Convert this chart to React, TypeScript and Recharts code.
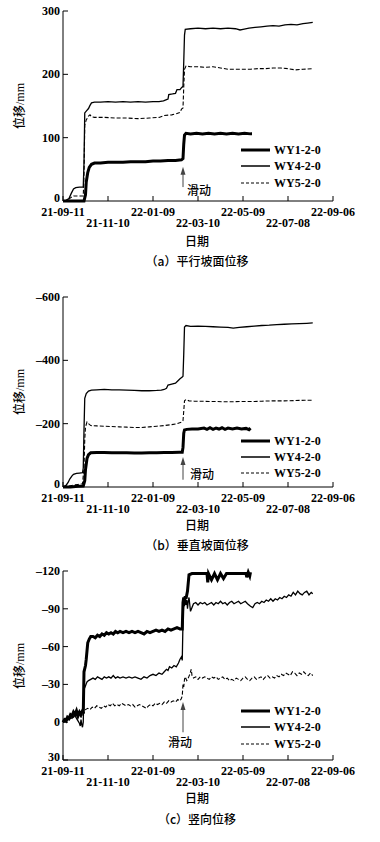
import { LineChart, Line, XAxis, YAxis, ReferenceLine } from 'recharts';

type Pt = [number, number];

// x: days counted from 21-09-11
const DATE_TICKS = [0, 60, 120, 180, 240, 300, 360];
const DATE_LABELS = ['21-09-11', '21-11-10', '22-01-09', '22-03-10', '22-05-09', '22-07-08', '22-09-06'];
const SERIES_NAMES = ['WY1-2-0', 'WY4-2-0', 'WY5-2-0'];

const A_TICKS = [0, 100, 200, 300];
const B_TICKS = [-600, -400, -200, 0];
const C_TICKS = [-120, -90, -60, -30, 0, 30];

// (a) 平行坡面位移
const A_WY1: Pt[] = [[0,0],[10,0],[20,0],[28,0],[30,10],[31,30],[33,45],[35,53],[38,58],[42,60],[50,60],[60,61],[70,61],[80,61],[90,62],[100,62],[110,62],[120,63],[130,63],[140,64],[150,64],[158,65],[160,67],[161,90],[162,104],[164,107],[170,106],[178,107],[186,106],[194,107],[202,106],[210,107],[218,106],[226,107],[234,106],[242,107],[250,106],[252,106]];
const A_WY4: Pt[] = [[0,0],[4,1],[8,4],[11,12],[14,19],[17,21],[22,22],[27,22],[28,60],[29,139],[31,142],[34,146],[36,151],[38,155],[42,156],[50,156],[60,157],[70,156],[80,157],[90,156],[100,157],[110,156],[120,157],[128,157],[134,158],[138,160],[140,161],[141,168],[146,169],[150,170],[152,176],[156,176],[158,179],[160,181],[161,220],[162,262],[163,271],[170,272],[180,273],[190,272],[200,273],[210,272],[220,273],[230,272],[236,270],[240,271],[248,273],[256,274],[264,275],[272,276],[280,277],[288,276],[296,278],[304,279],[312,278],[320,280],[326,281],[333,282]];
const A_WY5: Pt[] = [[0,0],[6,1],[10,5],[14,8],[20,8],[27,8],[28,40],[29,120],[31,128],[34,134],[36,136],[38,133],[42,132],[55,132],[70,131],[85,131],[100,130],[115,131],[128,132],[135,135],[145,136],[152,138],[156,140],[158,145],[160,147],[161,180],[162,208],[164,213],[170,212],[180,212],[190,211],[200,212],[210,210],[220,208],[230,208],[240,208],[250,208],[260,209],[270,209],[280,210],[290,210],[300,209],[310,207],[320,208],[333,209]];

// (b) 垂直坡面位移
const B_WY1: Pt[] = [[0,0],[10,0],[20,-2],[27,-3],[29,-20],[30,-55],[32,-90],[34,-102],[37,-108],[45,-109],[55,-109],[65,-108],[75,-108],[85,-108],[95,-107],[105,-107],[115,-108],[125,-108],[135,-109],[145,-109],[155,-110],[159,-110],[160,-125],[161,-170],[162,-180],[165,-182],[172,-183],[180,-183],[188,-186],[192,-182],[196,-187],[200,-182],[204,-186],[208,-183],[212,-187],[216,-182],[220,-186],[226,-183],[232,-186],[238,-183],[244,-185],[248,-181],[250,-186]];
const B_WY4: Pt[] = [[0,0],[4,-5],[7,-15],[9,-25],[12,-35],[14,-40],[18,-43],[22,-44],[26,-45],[27,-60],[28,-180],[29,-280],[31,-295],[34,-303],[38,-306],[45,-307],[55,-308],[65,-307],[75,-307],[85,-306],[95,-305],[105,-304],[115,-304],[125,-305],[131,-306],[135,-308],[138,-312],[140,-322],[145,-325],[150,-328],[153,-335],[156,-342],[159,-347],[160,-350],[161,-420],[162,-505],[164,-510],[170,-507],[180,-508],[190,-507],[200,-506],[210,-505],[220,-504],[227,-502],[235,-504],[245,-506],[255,-508],[265,-510],[275,-511],[285,-513],[295,-514],[305,-515],[315,-516],[325,-517],[333,-518]];
const B_WY5: Pt[] = [[0,0],[8,-3],[14,-6],[20,-8],[26,-10],[28,-60],[29,-150],[30,-190],[32,-205],[34,-200],[37,-194],[45,-193],[55,-192],[65,-191],[75,-190],[85,-189],[95,-188],[105,-188],[115,-190],[125,-192],[135,-194],[145,-197],[152,-200],[158,-205],[160,-210],[161,-240],[162,-272],[164,-276],[168,-272],[175,-271],[185,-271],[195,-270],[205,-270],[215,-269],[225,-269],[235,-270],[245,-270],[255,-270],[265,-271],[280,-272],[295,-272],[310,-273],[322,-274],[333,-274]];

// (c) 竖向位移
const C_WY1: Pt[] = [[0,0],[2,-2],[4,-1],[6,-4],[8,-3],[10,-6],[12,-5],[14,-8],[16,-6],[18,-9],[20,-5],[22,-8],[24,-6],[26,-9],[27,-7],[28,-40],[30,-45],[31,-50],[33,-63],[35,-66],[37,-68],[40,-68],[43,-67],[46,-69],[49,-68],[52,-70],[55,-69],[58,-71],[61,-70],[64,-71],[67,-70],[70,-72],[73,-71],[76,-72],[80,-71],[84,-72],[88,-71],[92,-72],[96,-71],[100,-72],[104,-71],[108,-70],[112,-72],[116,-71],[120,-72],[124,-73],[128,-72],[132,-73],[136,-72],[140,-74],[144,-73],[148,-74],[152,-75],[156,-74],[159,-74],[160,-95],[161,-99],[162,-96],[163,-100],[164,-98],[166,-104],[168,-117],[172,-118],[180,-118],[188,-118],[192,-118],[193,-111],[194,-118],[198,-113],[202,-118],[206,-113],[210,-118],[214,-114],[218,-118],[224,-118],[232,-118],[240,-118],[244,-118],[245,-115],[247,-119],[249,-116],[250,-119]];
const C_WY4: Pt[] = [[0,0],[2,-1],[4,-3],[6,-2],[8,-4],[10,-3],[12,-5],[14,-4],[16,-6],[18,-3],[20,-1],[22,1],[23,3],[24,-2],[25,2],[26,4],[27,0],[28,-26],[30,-29],[32,-32],[34,-33],[37,-34],[40,-35],[43,-34],[46,-36],[49,-35],[52,-34],[55,-36],[58,-35],[61,-36],[64,-35],[67,-37],[70,-35],[73,-36],[76,-35],[80,-36],[84,-35],[88,-36],[92,-35],[96,-36],[100,-35],[104,-34],[108,-36],[112,-35],[116,-37],[120,-38],[124,-37],[128,-39],[132,-38],[135,-40],[138,-42],[140,-41],[142,-44],[145,-43],[148,-45],[151,-44],[154,-47],[156,-50],[158,-52],[159,-49],[160,-80],[161,-97],[162,-92],[163,-100],[164,-93],[165,-97],[166,-90],[167,-96],[168,-99],[170,-88],[172,-91],[174,-94],[177,-95],[180,-93],[183,-95],[186,-94],[189,-95],[192,-93],[195,-94],[198,-95],[201,-93],[204,-95],[207,-94],[210,-96],[213,-94],[216,-95],[219,-93],[222,-95],[225,-96],[228,-94],[231,-95],[234,-96],[237,-94],[240,-95],[243,-96],[246,-94],[250,-92],[253,-91],[256,-94],[259,-95],[262,-94],[265,-96],[268,-95],[271,-97],[274,-96],[277,-98],[280,-96],[283,-98],[286,-97],[289,-99],[292,-98],[295,-100],[298,-99],[301,-101],[304,-100],[307,-103],[310,-101],[313,-104],[316,-102],[319,-101],[322,-103],[325,-104],[328,-101],[331,-103],[333,-102]];
const C_WY5: Pt[] = [[0,0],[3,-2],[6,-1],[9,-4],[12,-3],[15,-6],[18,-5],[21,-7],[24,-4],[27,-6],[30,-10],[33,-11],[36,-10],[39,-12],[42,-11],[45,-13],[48,-12],[51,-11],[54,-13],[57,-12],[60,-14],[63,-13],[66,-15],[69,-13],[72,-14],[75,-13],[78,-15],[81,-14],[84,-13],[87,-14],[90,-13],[93,-14],[96,-12],[99,-13],[102,-14],[105,-13],[108,-12],[111,-11],[114,-13],[117,-14],[120,-13],[123,-15],[126,-14],[129,-15],[132,-14],[135,-16],[138,-15],[141,-17],[144,-16],[147,-17],[150,-16],[153,-18],[156,-17],[158,-19],[159,-21],[160,-30],[161,-28],[162,-34],[163,-36],[165,-33],[167,-35],[169,-38],[171,-42],[172,-37],[174,-35],[177,-36],[180,-34],[183,-36],[186,-35],[189,-36],[192,-35],[195,-34],[198,-36],[201,-35],[204,-36],[207,-34],[210,-35],[213,-36],[216,-34],[219,-35],[222,-33],[225,-34],[228,-33],[231,-35],[234,-34],[237,-33],[240,-35],[243,-36],[246,-34],[249,-33],[252,-35],[255,-36],[258,-34],[261,-35],[264,-36],[267,-34],[270,-36],[273,-37],[276,-35],[279,-36],[282,-35],[285,-37],[288,-36],[291,-38],[294,-37],[297,-39],[300,-38],[303,-37],[306,-40],[309,-39],[312,-37],[315,-39],[318,-38],[321,-40],[324,-38],[327,-37],[330,-39],[333,-37]];

const INK = '#000';
const SERIF = '"Liberation Serif", "Times New Roman", serif';
const CJK = '"Noto Sans CJK SC", sans-serif';
const X_AXIS_H = 30;

const LINE_STYLES = [
  { width: 3, dash: undefined as string | undefined },
  { width: 1.3, dash: undefined as string | undefined },
  { width: 1.1, dash: '4 2' },
];

const toRows = (pts: Pt[]) => pts.map(([d, v]) => ({ d, v }));
const fmtY = (v: number) => (v < 0 ? '–' + Math.abs(v) : String(v));

function XTick(props: any) {
  const { x, y, payload } = props;
  const i = DATE_TICKS.indexOf(payload.value);
  return (
    <g>
      <line x1={x} y1={y} x2={x} y2={y - 5} stroke={INK} strokeWidth={1} />
      <text x={x} y={y + (i % 2 ? 26 : 15)} textAnchor="middle" fontSize={12} fontWeight="bold" fontFamily={SERIF} fill={INK}>
        {DATE_LABELS[i]}
      </text>
    </g>
  );
}

// bottom tick label sits a bit higher so it clears the first date label
function makeYTick(bottomValue: number) {
  return (props: any) => {
    const { x, y, payload } = props;
    const dy = payload.value === bottomValue ? 1 : 4;
    return (
      <g>
        <line x1={x} y1={y} x2={x + 5} y2={y} stroke={INK} strokeWidth={1} />
        <text x={x - 3} y={y + dy} textAnchor="end" fontSize={12} fontWeight="bold" fontFamily={SERIF} fill={INK}>
          {fmtY(payload.value)}
        </text>
      </g>
    );
  };
}

interface Arrow { x: number; tail: number; tip: number; dx: number; dy: number; anchor: 'start' | 'middle' }

function arrowShape(a: Arrow) {
  return (p: any) => {
    const { x1, y1, x2, y2 } = p;
    return (
      <g>
        <line x1={x1} y1={y1} x2={x2} y2={y2 + 6} stroke="#444" strokeWidth={1} />
        <path d={`M${x2},${y2} L${x2 - 2.5},${y2 + 8} L${x2 + 2.5},${y2 + 8} Z`} fill="#444" />
        <text x={x1 + a.dx} y={y1 + a.dy} textAnchor={a.anchor} fontSize={12} fontWeight={500} fontFamily={CJK} fill={INK}>
          滑动
        </text>
      </g>
    );
  };
}

interface PanelProps {
  top: number;
  height: number;
  marginTop: number;
  marginBottom: number;
  domain: [number, number];
  ticks: number[];
  bottomTick: number;
  reversed: boolean;
  series: Pt[][];
  arrow: Arrow;
  legendRows: number[];
  xLabelY: number;
  captionY: number;
  caption: string;
}

function Panel(p: PanelProps) {
  const plotBottom = p.height - p.marginBottom - X_AXIS_H;
  const yMid = (p.marginTop + plotBottom) / 2;
  const cjkText = { position: 'absolute' as const, left: 197, transform: 'translateX(-50%)', fontFamily: CJK, fontSize: 12, fontWeight: 500, lineHeight: '16px', color: INK, whiteSpace: 'nowrap' as const };
  return (
    <div style={{ position: 'absolute', left: 0, top: p.top, width: 380, height: p.height }}>
      <LineChart width={380} height={p.height} margin={{ top: p.marginTop, right: 47, bottom: p.marginBottom, left: 0 }}>
        <XAxis
          type="number"
          dataKey="d"
          domain={[0, 360]}
          ticks={DATE_TICKS}
          interval={0}
          height={X_AXIS_H}
          tickLine={false}
          tickSize={0}
          tickMargin={0}
          stroke={INK}
          tick={XTick}
        />
        <YAxis
          type="number"
          domain={p.domain}
          ticks={p.ticks}
          reversed={p.reversed}
          interval={0}
          width={63}
          tickLine={false}
          tickSize={0}
          tickMargin={0}
          stroke={INK}
          tick={makeYTick(p.bottomTick)}
        />
        {p.series.map((s, i) => (
          <Line
            key={SERIES_NAMES[i]}
            name={SERIES_NAMES[i]}
            data={toRows(s)}
            dataKey="v"
            type="linear"
            stroke={INK}
            strokeWidth={LINE_STYLES[i].width}
            strokeDasharray={LINE_STYLES[i].dash}
            dot={false}
            isAnimationActive={false}
          />
        ))}
        <ReferenceLine
          segment={[{ x: p.arrow.x, y: p.arrow.tail }, { x: p.arrow.x, y: p.arrow.tip }]}
          shape={arrowShape(p.arrow)}
        />
      </LineChart>

      {/* y label */}
      <div
        style={{
          position: 'absolute', left: 19, top: yMid, transform: 'translate(-50%, -50%) rotate(-90deg)',
          whiteSpace: 'nowrap', fontSize: 12, color: INK, lineHeight: '14px',
        }}
      >
        <span style={{ fontFamily: CJK, fontWeight: 500 }}>位移</span>
        <span style={{ fontFamily: SERIF }}>/mm</span>
      </div>

      <div style={{ ...cjkText, top: p.xLabelY - 8 }}>日期</div>
      <div style={{ ...cjkText, top: p.captionY - 8 }}>{p.caption}</div>

      {/* legend */}
      <svg style={{ position: 'absolute', left: 0, top: 0 }} width={380} height={p.height} pointerEvents="none">
        {SERIES_NAMES.map((n, i) => (
          <g key={n}>
            <line x1={241} x2={270} y1={p.legendRows[i]} y2={p.legendRows[i]} stroke={INK} strokeWidth={i === 0 ? 3 : i === 1 ? 1.5 : 1.1} strokeDasharray={i === 2 ? '3 2' : undefined} />
            <text x={274} y={p.legendRows[i] + 4} fontSize={12} fontWeight="bold" fontFamily={SERIF} fill={INK}>{n}</text>
          </g>
        ))}
      </svg>
    </div>
  );
}

export default function App() {
  return (
    <div style={{ position: 'absolute', left: 0, top: 0, width: 380, height: 842, background: '#fff' }}>
      <Panel
        top={0} height={280} marginTop={11} marginBottom={49}
        domain={[0, 300]} ticks={A_TICKS} bottomTick={0} reversed={false}
        series={[A_WY1, A_WY4, A_WY5]}
        arrow={{ x: 160, tail: 22, tip: 54, dx: 4, dy: 8, anchor: 'start' }}
        legendRows={[150, 166, 183]}
        xLabelY={241} captionY={261} caption="（a）平行坡面位移"
      />
      <Panel
        top={280} height={280} marginTop={17} marginBottom={43}
        domain={[-600, 0]} ticks={B_TICKS} bottomTick={0} reversed={true}
        series={[B_WY1, B_WY4, B_WY5]}
        arrow={{ x: 160, tail: -23, tip: -95, dx: 7, dy: -1, anchor: 'start' }}
        legendRows={[161, 177, 193]}
        xLabelY={245} captionY={265} caption="（b）垂直坡面位移"
      />
      <Panel
        top={555} height={287} marginTop={16} marginBottom={52}
        domain={[-120, 30]} ticks={C_TICKS} bottomTick={30} reversed={true}
        series={[C_WY1, C_WY4, C_WY5]}
        arrow={{ x: 160, tail: 8, tip: -16, dx: -3, dy: 15, anchor: 'middle' }}
        legendRows={[156, 172, 189]}
        xLabelY={243} captionY={264} caption="（c）竖向位移"
      />
    </div>
  );
}
